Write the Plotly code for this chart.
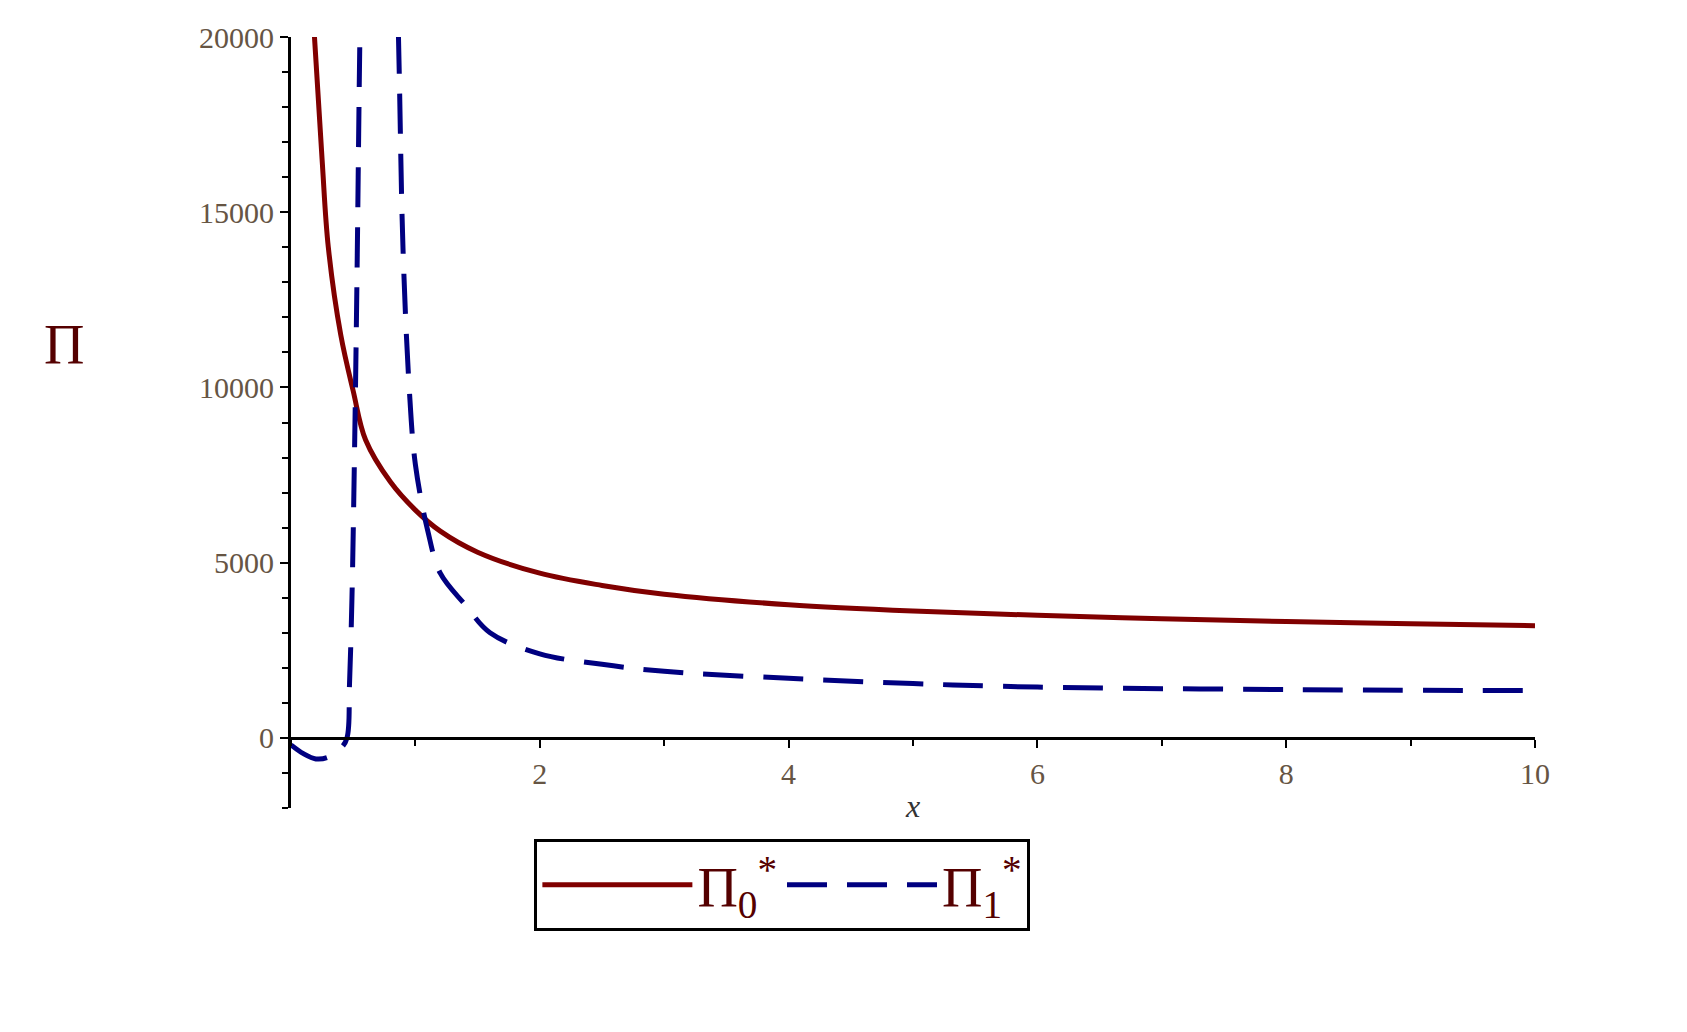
import plotly.graph_objects as go

# Pi_0* curve
x0 = [0.18, 0.25, 0.3, 0.4, 0.5, 0.6, 0.8, 1.0, 1.2, 1.5, 2.0, 2.5, 3.0, 4.0, 5.0, 6.0, 7.0, 8.0, 9.0, 10.0]
pi0 = [20500, 16500, 14000, 11500, 9900, 8500, 7300, 6500, 5900, 5300, 4700, 4350, 4100, 3800, 3620, 3500, 3400, 3320, 3260, 3200]

# Pi_1* curve
x1 = [0.0, 0.1, 0.2, 0.3, 0.4, 0.45, 0.47, 0.49, 0.51, 0.53, 0.55, 0.57, 0.62, 0.7, 0.78, 0.84, 0.87,
      0.9, 0.95, 1.0, 1.1, 1.2, 1.4, 1.6, 2.0, 2.5, 3.0, 4.0, 5.0, 6.0, 8.0, 10.0]
pi1 = [-200, -450, -600, -550, -300, 0, 1500, 4000, 8000, 13000, 19000, 24000, 35000, 45000, 35000, 24000, 19000,
       14000, 10000, 7800, 5900, 4700, 3800, 3000, 2400, 2100, 1900, 1700, 1550, 1450, 1380, 1350]

yticks = [0, 5000, 10000, 15000, 20000]
xticks = [2, 4, 6, 8, 10]

fig = go.Figure()
fig.add_trace(go.Scatter(x=x0, y=pi0, mode='lines', line=dict(color='#800000', width=5, shape='spline'),
                         name='Π<sub>0</sub><sup>*</sup>'))
fig.add_trace(go.Scatter(x=x1, y=pi1, mode='lines', line=dict(color='#000080', width=5, dash='40px,20px', shape='spline'),
                         name='Π<sub>1</sub><sup>*</sup>'))

tickfont = dict(family='Liberation Serif', size=30, color='#665544')
fig.update_layout(
    width=1687, height=1032,
    plot_bgcolor='white', paper_bgcolor='white',
    margin=dict(l=283, r=160, t=20, b=232),
    xaxis=dict(range=[0, 10], anchor='free', position=2000 / 22000, showgrid=False, zeroline=False,
               showline=True, linecolor='black', linewidth=3, tickvals=xticks,
               ticks='outside', ticklen=8, tickwidth=2, tickcolor='black', tickfont=tickfont,
               minor=dict(dtick=1, ticks='outside', ticklen=6, tickcolor='black'),
               title=dict(text='<i>x</i>', font=dict(family='Liberation Serif', size=32, color='#333'), standoff=5)),
    yaxis=dict(range=[-2000, 20000], showgrid=False, zeroline=False, showline=True, linecolor='black', linewidth=3,
               tickvals=yticks, ticktext=[str(v) for v in yticks], ticks='outside', ticklen=8, tickwidth=2,
               tickcolor='black', tickfont=tickfont,
               minor=dict(dtick=1000, ticks='outside', ticklen=6, tickcolor='black')),
    legend=dict(orientation='h', x=0.395, xanchor='center', y=-0.04, yanchor='top',
                bordercolor='black', borderwidth=3, font=dict(family='Liberation Serif', size=56, color='#500'),
                itemwidth=150),
    showlegend=True,
)
fig.add_annotation(text='Π', xref='x domain', yref='y domain', x=-0.2, y=0.6, showarrow=False,
                   font=dict(family='Liberation Serif', size=56, color='#500'))
fig.write_html("out.html")
